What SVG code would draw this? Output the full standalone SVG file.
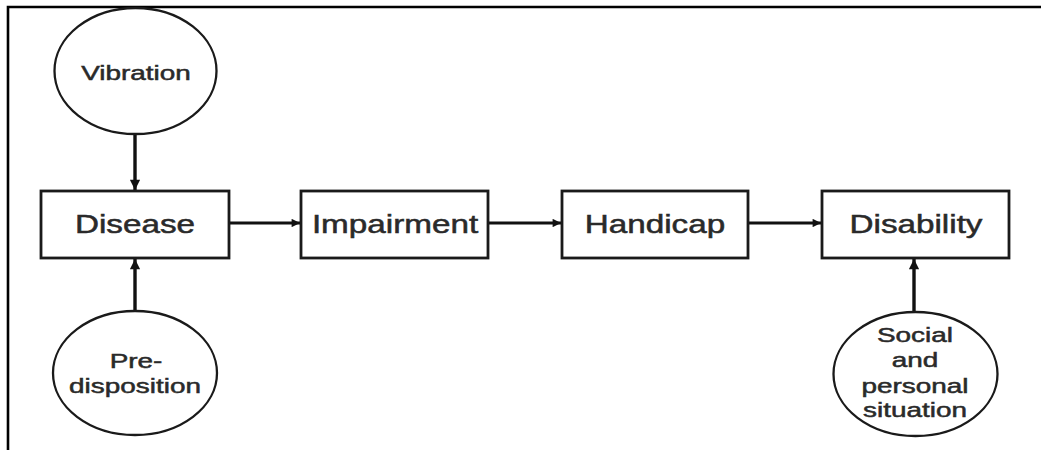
<svg xmlns="http://www.w3.org/2000/svg" width="1041" height="450" viewBox="0 0 1041 450">
<style>
.box{fill:#fff;stroke:#1a1a1a;stroke-width:2.8}
.ell{fill:#fff;stroke:#1a1a1a;stroke-width:2.3}
.lbl{font-family:"Liberation Sans",Arial,sans-serif;font-size:25px;fill:#2a2a2a;stroke:#2a2a2a;stroke-width:0.5;text-anchor:middle}
.sm{font-size:21px}
.edge{stroke:#111;stroke-width:2.8;fill:none;marker-end:url(#ah)}
.v{stroke-width:3.4}
.frame{stroke:#000;stroke-width:2.6;fill:none}
</style>
<defs>
<marker id="ah" viewBox="0 0 10 10" refX="10" refY="5" markerWidth="3.2" markerHeight="3" markerUnits="strokeWidth" orient="auto">
<path d="M0,0 L10,5 L0,10 z" fill="#111"/>
</marker>
</defs>
<rect width="1041" height="450" fill="#fff"/>
<path class="frame" d="M8,450 V7 H1041"/>
<g id="connectors">
<line class="edge v" x1="135" y1="134" x2="135" y2="190"/>
<line class="edge v" x1="135" y1="312" x2="135" y2="259"/>
<line class="edge" x1="229" y1="223" x2="300" y2="223"/>
<line class="edge" x1="488" y1="223" x2="561" y2="223"/>
<line class="edge" x1="748" y1="223" x2="821" y2="223"/>
<line class="edge v" x1="914" y1="312" x2="914" y2="259"/>
</g>
<g id="vibration">
<ellipse class="ell" cx="135.5" cy="71" rx="81" ry="63"/>
<text class="lbl sm" transform="translate(136,80) scale(1.33,1)">Vibration</text>
</g>
<g id="disease">
<rect class="box" x="41" y="191" width="188" height="67"/>
<text class="lbl" transform="translate(135,233) scale(1.33,1)">Disease</text>
</g>
<g id="predisposition">
<ellipse class="ell" cx="135" cy="373" rx="82" ry="62"/>
<text class="lbl sm" transform="translate(136,368) scale(1.33,1)">Pre-</text>
<text class="lbl sm" transform="translate(135,393) scale(1.33,1)">disposition</text>
</g>
<g id="impairment">
<rect class="box" x="301" y="191" width="187" height="67"/>
<text class="lbl" transform="translate(395,233) scale(1.33,1)">Impairment</text>
</g>
<g id="handicap">
<rect class="box" x="562" y="191" width="186" height="67"/>
<text class="lbl" transform="translate(655,233) scale(1.33,1)">Handicap</text>
</g>
<g id="disability">
<rect class="box" x="822" y="191" width="187" height="67"/>
<text class="lbl" transform="translate(916,233) scale(1.33,1)">Disability</text>
</g>
<g id="social">
<ellipse class="ell" cx="915.5" cy="374" rx="82" ry="62"/>
<text class="lbl sm" transform="translate(915,342) scale(1.33,1)">Social</text>
<text class="lbl sm" transform="translate(915,367) scale(1.33,1)">and</text>
<text class="lbl sm" transform="translate(915,393) scale(1.33,1)">personal</text>
<text class="lbl sm" transform="translate(915,417) scale(1.33,1)">situation</text>
</g>
</svg>
